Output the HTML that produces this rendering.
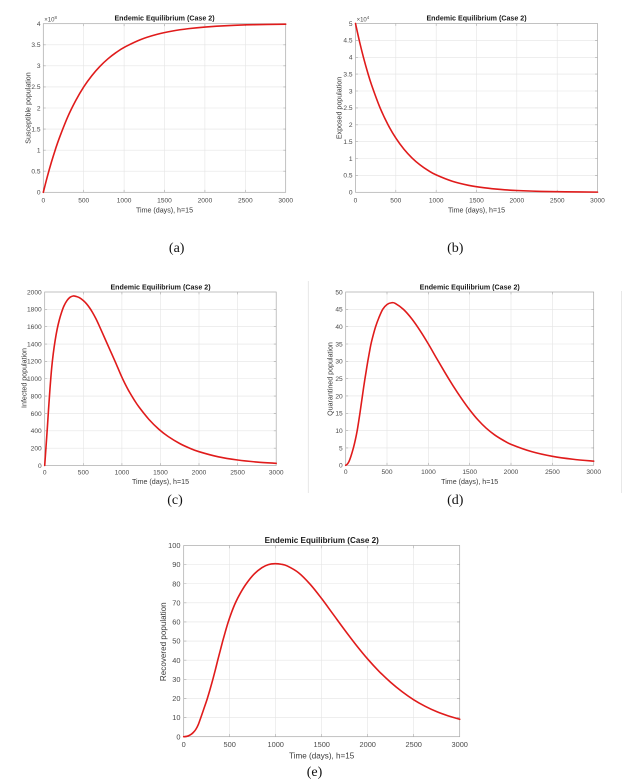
<!DOCTYPE html>
<html>
<head>
<meta charset="utf-8">
<style>
  html, body { margin: 0; padding: 0; background: #ffffff; }
  svg { display: block; }
  .tk { font-family: "Liberation Sans", Arial, sans-serif; font-size: 6.6px; fill: #4a4a4a; }
  .tkE { font-family: "Liberation Sans", Arial, sans-serif; font-size: 7.4px; fill: #4a4a4a; }
  .lb { font-family: "Liberation Sans", Arial, sans-serif; font-size: 7.1px; fill: #3a3a3a; }
  .lbE { font-family: "Liberation Sans", Arial, sans-serif; font-size: 8.1px; fill: #3a3a3a; }
  .tt { font-family: "Liberation Sans", Arial, sans-serif; font-size: 7.1px; font-weight: bold; fill: #1a1a1a; }
  .ttE { font-family: "Liberation Sans", Arial, sans-serif; font-size: 8.1px; font-weight: bold; fill: #1a1a1a; }
  .pl { font-family: "Liberation Serif", "Times New Roman", serif; font-size: 14px; fill: #111; }
  .grid { stroke: #e4e4e4; stroke-width: 0.6; fill: none; }
  .box { stroke: #a8a8a8; stroke-width: 0.7; fill: none; }
  .tick { stroke: #a8a8a8; stroke-width: 0.6; fill: none; }
  .crv { stroke: #e01b1b; stroke-width: 1.6; fill: none; stroke-linejoin: round; stroke-linecap: round; }
</style>
</head>
<body>
<svg width="622" height="784" viewBox="0 0 622 784" xmlns="http://www.w3.org/2000/svg">
<rect x="0" y="0" width="622" height="784" fill="#ffffff"/>

<!-- faint edge lines -->
<path d="M308.3 281V493" stroke="#e2e2e2" stroke-width="0.8"/>
<path d="M621.4 291V493" stroke="#e2e2e2" stroke-width="0.8"/>

<!-- ================= (a) ================= -->
<path class="grid" d="M83.7 23.7V192.3M124.1 23.7V192.3M164.5 23.7V192.3M204.9 23.7V192.3M245.3 23.7V192.3
M43.3 171.2H285.7M43.3 150.15H285.7M43.3 129.1H285.7M43.3 108H285.7M43.3 86.9H285.7M43.3 65.85H285.7M43.3 44.8H285.7"/>
<path class="tick" d="M83.7 192.3v-2.4M124.1 192.3v-2.4M164.5 192.3v-2.4M204.9 192.3v-2.4M245.3 192.3v-2.4
M83.7 23.7v2.4M124.1 23.7v2.4M164.5 23.7v2.4M204.9 23.7v2.4M245.3 23.7v2.4
M43.3 171.2h2.4M43.3 150.15h2.4M43.3 129.1h2.4M43.3 108h2.4M43.3 86.9h2.4M43.3 65.85h2.4M43.3 44.8h2.4
M285.7 171.2h-2.4M285.7 150.15h-2.4M285.7 129.1h-2.4M285.7 108h-2.4M285.7 86.9h-2.4M285.7 65.85h-2.4M285.7 44.8h-2.4"/>
<rect class="box" x="43.3" y="23.7" width="242.4" height="168.6"/>
<g transform="translate(43.3,192.3) scale(0.0808,-168.6)">
<path class="crv" vector-effect="non-scaling-stroke" d="M0 0L50 .0934L100 .178L150 .2548L200 .324L300 .445L400 .543L500 .625L600 .6915L700 .7466L800 .7917L900 .8288L1000 .8593L1200 .9049L1400 .9358L1600 .9566L1800 .9707L2000 .9802L2300 .989L2600 .9939L3000 .9972"/>
</g>
<g class="tk" text-anchor="end">
<text x="40.5" y="194.6">0</text><text x="40.5" y="173.5">0.5</text><text x="40.5" y="152.45">1</text><text x="40.5" y="131.4">1.5</text><text x="40.5" y="110.3">2</text><text x="40.5" y="89.2">2.5</text><text x="40.5" y="68.15">3</text><text x="40.5" y="47.1">3.5</text><text x="40.5" y="26">4</text>
</g>
<g class="tk" text-anchor="middle">
<text x="43.3" y="202.4">0</text><text x="83.7" y="202.4">500</text><text x="124.1" y="202.4">1000</text><text x="164.5" y="202.4">1500</text><text x="204.9" y="202.4">2000</text><text x="245.3" y="202.4">2500</text><text x="285.7" y="202.4">3000</text>
</g>
<text class="tk" x="44.3" y="21.6" style="font-size:6px">×10<tspan dy="-2.4" style="font-size:4.4px">8</tspan></text>
<text class="tt" x="164.5" y="20.3" text-anchor="middle">Endemic Equilibrium (Case 2)</text>
<text class="lb" x="164.5" y="212.6" text-anchor="middle">Time (days), h=15</text>
<text class="lb" x="30.5" y="108" text-anchor="middle" transform="rotate(-90 30.5 108)">Susceptible population</text>
<text class="pl" x="176.7" y="252" text-anchor="middle">(a)</text>

<!-- ================= (b) ================= -->
<path class="grid" d="M395.8 23.5V192.3M436.2 23.5V192.3M476.5 23.5V192.3M516.8 23.5V192.3M557.2 23.5V192.3
M355.5 175.4H597.5M355.5 158.5H597.5M355.5 141.7H597.5M355.5 124.8H597.5M355.5 107.9H597.5M355.5 91H597.5M355.5 74.1H597.5M355.5 57.3H597.5M355.5 40.4H597.5"/>
<path class="tick" d="M395.8 192.3v-2.4M436.2 192.3v-2.4M476.5 192.3v-2.4M516.8 192.3v-2.4M557.2 192.3v-2.4
M395.8 23.5v2.4M436.2 23.5v2.4M476.5 23.5v2.4M516.8 23.5v2.4M557.2 23.5v2.4
M355.5 175.4h2.4M355.5 158.5h2.4M355.5 141.7h2.4M355.5 124.8h2.4M355.5 107.9h2.4M355.5 91h2.4M355.5 74.1h2.4M355.5 57.3h2.4M355.5 40.4h2.4
M597.5 175.4h-2.4M597.5 158.5h-2.4M597.5 141.7h-2.4M597.5 124.8h-2.4M597.5 107.9h-2.4M597.5 91h-2.4M597.5 74.1h-2.4M597.5 57.3h-2.4M597.5 40.4h-2.4"/>
<rect class="box" x="355.5" y="23.5" width="242" height="168.8"/>
<g transform="translate(355.5,192.3) scale(0.080667,-168.8)">
<path class="crv" vector-effect="non-scaling-stroke" d="M0 1L50 .8926L100 .7967L150 .7111L200 .6348L300 .5057L400 .4029L500 .321L600 .2557L700 .2037L800 .1623L900 .1293L1000 .103L1200 .0654L1400 .0415L1600 .0264L1800 .0167L2000 .0106L2300 .0054L2600 .0027L3000 .0011"/>
</g>
<g class="tk" text-anchor="end">
<text x="352.6" y="194.6">0</text><text x="352.6" y="177.7">0.5</text><text x="352.6" y="160.8">1</text><text x="352.6" y="144">1.5</text><text x="352.6" y="127.1">2</text><text x="352.6" y="110.2">2.5</text><text x="352.6" y="93.3">3</text><text x="352.6" y="76.4">3.5</text><text x="352.6" y="59.6">4</text><text x="352.6" y="42.7">4.5</text><text x="352.6" y="25.8">5</text>
</g>
<g class="tk" text-anchor="middle">
<text x="355.5" y="202.4">0</text><text x="395.8" y="202.4">500</text><text x="436.2" y="202.4">1000</text><text x="476.5" y="202.4">1500</text><text x="516.8" y="202.4">2000</text><text x="557.2" y="202.4">2500</text><text x="597.5" y="202.4">3000</text>
</g>
<text class="tk" x="356.6" y="21.6" style="font-size:6px">×10<tspan dy="-2.4" style="font-size:4.4px">4</tspan></text>
<text class="tt" x="476.5" y="20.3" text-anchor="middle">Endemic Equilibrium (Case 2)</text>
<text class="lb" x="476.5" y="212.6" text-anchor="middle">Time (days), h=15</text>
<text class="lb" x="341.6" y="108" text-anchor="middle" transform="rotate(-90 341.6 108)">Exposed population</text>
<text class="pl" x="455.3" y="252" text-anchor="middle">(b)</text>

<!-- ================= (c) ================= -->
<path class="grid" d="M83.3 292V465.5M121.9 292V465.5M160.5 292V465.5M199 292V465.5M237.6 292V465.5
M44.7 448.15H276.2M44.7 430.8H276.2M44.7 413.45H276.2M44.7 396.1H276.2M44.7 378.75H276.2M44.7 361.4H276.2M44.7 344.05H276.2M44.7 326.7H276.2M44.7 309.35H276.2"/>
<path class="tick" d="M83.3 465.5v-2.4M121.9 465.5v-2.4M160.5 465.5v-2.4M199 465.5v-2.4M237.6 465.5v-2.4
M83.3 292v2.4M121.9 292v2.4M160.5 292v2.4M199 292v2.4M237.6 292v2.4
M44.7 448.15h2.4M44.7 430.8h2.4M44.7 413.45h2.4M44.7 396.1h2.4M44.7 378.75h2.4M44.7 361.4h2.4M44.7 344.05h2.4M44.7 326.7h2.4M44.7 309.35h2.4
M276.2 448.15h-2.4M276.2 430.8h-2.4M276.2 413.45h-2.4M276.2 396.1h-2.4M276.2 378.75h-2.4M276.2 361.4h-2.4M276.2 344.05h-2.4M276.2 326.7h-2.4M276.2 309.35h-2.4"/>
<rect class="box" x="44.7" y="292" width="231.5" height="173.5"/>
<g transform="translate(44.7,465.5) scale(0.077167,-173.5)">
<path class="crv" vector-effect="non-scaling-stroke" d="M0 0L15 .095L34 .215L50 .325L68 .44L90 .56L111 .645L135 .72L162 .787L190 .84L218 .882L250 .92L291 .952L330 .97L368 .977L410 .974L450 .967L500 .951L538 .934L580 .91L620 .882L665 .845L709 .803L780 .732L850 .662L920 .592L987 .522L1050 .463L1100 .422L1160 .378L1222 .337L1350 .266L1479 .209L1600 .167L1752 .126L1880 .0995L2000 .0796L2250 .05L2500 .0316L2750 .0199L3000 .0125"/>
</g>
<g class="tk" text-anchor="end">
<text x="41.7" y="467.8">0</text><text x="41.7" y="450.45">200</text><text x="41.7" y="433.1">400</text><text x="41.7" y="415.75">600</text><text x="41.7" y="398.4">800</text><text x="41.7" y="381.05">1000</text><text x="41.7" y="363.7">1200</text><text x="41.7" y="346.35">1400</text><text x="41.7" y="329">1600</text><text x="41.7" y="311.65">1800</text><text x="41.7" y="294.3">2000</text>
</g>
<g class="tk" text-anchor="middle">
<text x="44.7" y="474.4">0</text><text x="83.3" y="474.4">500</text><text x="121.9" y="474.4">1000</text><text x="160.5" y="474.4">1500</text><text x="199" y="474.4">2000</text><text x="237.6" y="474.4">2500</text><text x="276.2" y="474.4">3000</text>
</g>
<text class="tt" x="160.5" y="289.3" text-anchor="middle">Endemic Equilibrium (Case 2)</text>
<text class="lb" x="160.5" y="484" text-anchor="middle">Time (days), h=15</text>
<text class="lb" x="26.3" y="378" text-anchor="middle" transform="rotate(-90 26.3 378)">Infected population</text>
<text class="pl" x="175" y="503.8" text-anchor="middle">(c)</text>

<!-- ================= (d) ================= -->
<path class="grid" d="M387 292V465.3M428.4 292V465.3M469.7 292V465.3M511 292V465.3M552.4 292V465.3
M345.7 447.97H593.7M345.7 430.64H593.7M345.7 413.31H593.7M345.7 395.98H593.7M345.7 378.65H593.7M345.7 361.32H593.7M345.7 343.99H593.7M345.7 326.66H593.7M345.7 309.33H593.7"/>
<path class="tick" d="M387 465.3v-2.4M428.4 465.3v-2.4M469.7 465.3v-2.4M511 465.3v-2.4M552.4 465.3v-2.4
M387 292v2.4M428.4 292v2.4M469.7 292v2.4M511 292v2.4M552.4 292v2.4
M345.7 447.97h2.4M345.7 430.64h2.4M345.7 413.31h2.4M345.7 395.98h2.4M345.7 378.65h2.4M345.7 361.32h2.4M345.7 343.99h2.4M345.7 326.66h2.4M345.7 309.33h2.4
M593.7 447.97h-2.4M593.7 430.64h-2.4M593.7 413.31h-2.4M593.7 395.98h-2.4M593.7 378.65h-2.4M593.7 361.32h-2.4M593.7 343.99h-2.4M593.7 326.66h-2.4M593.7 309.33h-2.4"/>
<rect class="box" x="345.7" y="292" width="248" height="173.3"/>
<g transform="translate(345.7,465.3) scale(0.082667,-173.3)">
<path class="crv" vector-effect="non-scaling-stroke" d="M0 0L18 .006L38 .02L62 .05L93 .1L118 .15L139 .2L156 .25L172 .3L187 .35L202 .4L217 .45L233 .5L250 .55L267 .6L286 .65L306 .7L332 .75L362 .8L400 .85L448 .9L500 .928L556 .938L600 .934L700 .899L800 .845L900 .777L1000 .7L1100 .617L1200 .536L1300 .458L1400 .386L1500 .32L1600 .262L1700 .214L1800 .176L1900 .146L2000 .121L2250 .079L2500 .052L2750 .035L3000 .024"/>
</g>
<g class="tk" text-anchor="end">
<text x="342.7" y="467.6">0</text><text x="342.7" y="450.27">5</text><text x="342.7" y="432.94">10</text><text x="342.7" y="415.61">15</text><text x="342.7" y="398.28">20</text><text x="342.7" y="380.95">25</text><text x="342.7" y="363.62">30</text><text x="342.7" y="346.29">35</text><text x="342.7" y="328.96">40</text><text x="342.7" y="311.63">45</text><text x="342.7" y="294.3">50</text>
</g>
<g class="tk" text-anchor="middle">
<text x="345.7" y="474.2">0</text><text x="387" y="474.2">500</text><text x="428.4" y="474.2">1000</text><text x="469.7" y="474.2">1500</text><text x="511" y="474.2">2000</text><text x="552.4" y="474.2">2500</text><text x="593.7" y="474.2">3000</text>
</g>
<text class="tt" x="469.7" y="289.3" text-anchor="middle">Endemic Equilibrium (Case 2)</text>
<text class="lb" x="469.7" y="484" text-anchor="middle">Time (days), h=15</text>
<text class="lb" x="332.3" y="379" text-anchor="middle" transform="rotate(-90 332.3 379)">Quarantined population</text>
<text class="pl" x="455.3" y="503.8" text-anchor="middle">(d)</text>

<!-- ================= (e) ================= -->
<path class="grid" d="M229.7 545.5V736.7M275.7 545.5V736.7M321.7 545.5V736.7M367.7 545.5V736.7M413.7 545.5V736.7
M183.7 717.58H459.7M183.7 698.46H459.7M183.7 679.34H459.7M183.7 660.22H459.7M183.7 641.1H459.7M183.7 621.98H459.7M183.7 602.86H459.7M183.7 583.74H459.7M183.7 564.62H459.7"/>
<path class="tick" d="M229.7 736.7v-2.7M275.7 736.7v-2.7M321.7 736.7v-2.7M367.7 736.7v-2.7M413.7 736.7v-2.7
M229.7 545.5v2.7M275.7 545.5v2.7M321.7 545.5v2.7M367.7 545.5v2.7M413.7 545.5v2.7
M183.7 717.58h2.7M183.7 698.46h2.7M183.7 679.34h2.7M183.7 660.22h2.7M183.7 641.1h2.7M183.7 621.98h2.7M183.7 602.86h2.7M183.7 583.74h2.7M183.7 564.62h2.7
M459.7 717.58h-2.7M459.7 698.46h-2.7M459.7 679.34h-2.7M459.7 660.22h-2.7M459.7 641.1h-2.7M459.7 621.98h-2.7M459.7 602.86h-2.7M459.7 583.74h-2.7M459.7 564.62h-2.7"/>
<rect class="box" x="183.7" y="545.5" width="276" height="191.2"/>
<g transform="translate(183.7,736.7) scale(0.092,-191.2)">
<path class="crv" vector-effect="non-scaling-stroke" d="M0 0L35 .002L70 .009L100 .02L130 .037L160 .065L186 .1L222 .15L257 .2L288 .25L317 .3L344 .35L370 .4L397 .45L424 .5L453 .55L484 .6L520 .65L562 .7L615 .75L680 .8L764 .85L850 .884L920 .9L990 .905L1060 .902L1125 .893L1250 .857L1375 .797L1500 .722L1625 .64L1750 .558L1875 .479L2000 .406L2125 .341L2250 .284L2375 .235L2500 .193L2625 .159L2750 .131L2875 .109L3000 .091"/>
</g>
<g class="tkE" text-anchor="end">
<text x="180.5" y="739.3">0</text><text x="180.5" y="720.18">10</text><text x="180.5" y="701.06">20</text><text x="180.5" y="681.94">30</text><text x="180.5" y="662.82">40</text><text x="180.5" y="643.7">50</text><text x="180.5" y="624.58">60</text><text x="180.5" y="605.46">70</text><text x="180.5" y="586.34">80</text><text x="180.5" y="567.22">90</text><text x="180.5" y="548.1">100</text>
</g>
<g class="tkE" text-anchor="middle">
<text x="183.7" y="746.8">0</text><text x="229.7" y="746.8">500</text><text x="275.7" y="746.8">1000</text><text x="321.7" y="746.8">1500</text><text x="367.7" y="746.8">2000</text><text x="413.7" y="746.8">2500</text><text x="459.7" y="746.8">3000</text>
</g>
<text class="ttE" x="321.7" y="543" text-anchor="middle">Endemic Equilibrium (Case 2)</text>
<text class="lbE" x="321.7" y="758.6" text-anchor="middle">Time (days), h=15</text>
<text class="lbE" x="166" y="641.7" text-anchor="middle" transform="rotate(-90 166 641.7)">Recovered population</text>
<text class="pl" x="314.5" y="776" text-anchor="middle">(e)</text>

</svg>
<script>
(function(){
  var paths = document.querySelectorAll('path.crv');
  for (var k = 0; k < paths.length; k++) {
    var p = paths[k];
    var nums = p.getAttribute('d').replace(/[ML]/g,' ').trim().split(/\s+/).map(Number);
    var pts = [];
    for (var i = 0; i + 1 < nums.length; i += 2) pts.push([nums[i], nums[i+1]]);
    if (pts.length < 3) continue;
    var d = 'M' + pts[0][0] + ' ' + pts[0][1];
    for (var i = 0; i < pts.length - 1; i++) {
      var p0 = pts[i === 0 ? 0 : i - 1], p1 = pts[i], p2 = pts[i + 1], p3 = pts[i + 2 < pts.length ? i + 2 : i + 1];
      var c1x = p1[0] + (p2[0] - p0[0]) / 6, c1y = p1[1] + (p2[1] - p0[1]) / 6;
      var c2x = p2[0] - (p3[0] - p1[0]) / 6, c2y = p2[1] - (p3[1] - p1[1]) / 6;
      d += 'C' + c1x.toFixed(3) + ' ' + c1y.toFixed(5) + ' ' + c2x.toFixed(3) + ' ' + c2y.toFixed(5) + ' ' + p2[0] + ' ' + p2[1];
    }
    p.setAttribute('d', d);
  }
})();
</script>
</body>
</html>
